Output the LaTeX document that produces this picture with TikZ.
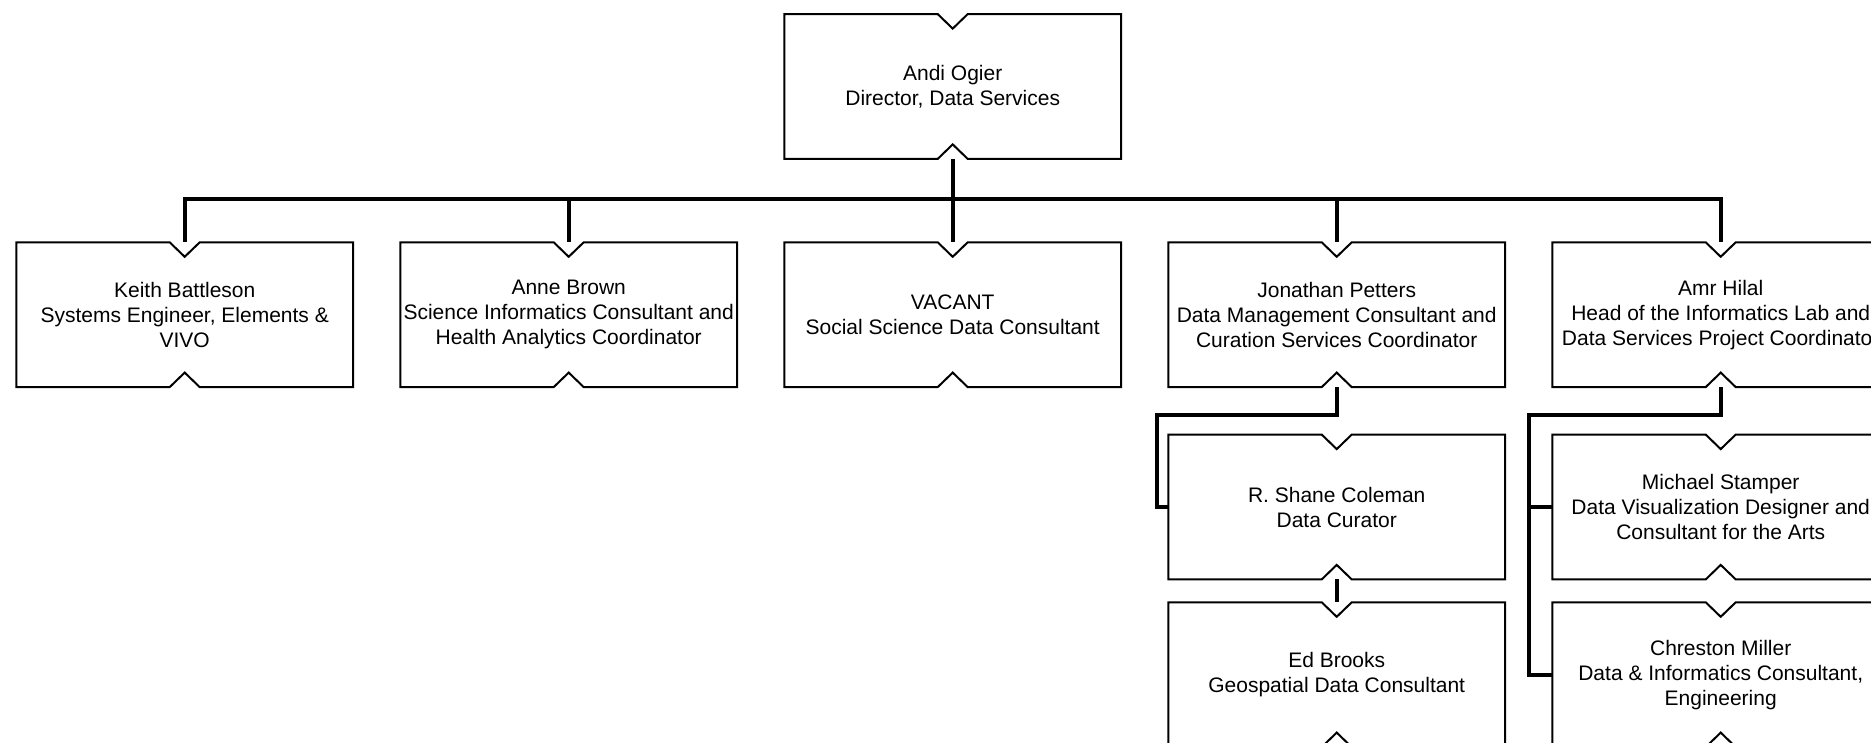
\documentclass[tikz,border=0pt]{standalone}
\usepackage{fontspec}
\setmainfont{Liberation Sans}
\usepackage{tikz}
\tikzstyle{post} = [minimum width=168pt,minimum height=72pt,inner sep=0pt,align=center,font=\fontsize{10.5}{12.5}\selectfont]
\tikzstyle{outline} = [line width=1pt,line join=miter]
\tikzstyle{link} = [line width=2.2pt,line join=miter]

\begin{document}
\begin{tikzpicture}[x=0.5pt,y=-0.5pt]
            \useasboundingbox (0,0) rectangle (1871,743);
            \node[post] (ogier) at (952.7,86.5) {Andi Ogier\\Director, Data Services};
            \node[post] (battleson) at (184.7,314.7) {Keith Battleson\\Systems Engineer, Elements \&\\VIVO};
            \node[post] (brown) at (568.7,314.7) {Anne Brown\\Science Informatics Consultant and\\Health Analytics Coordinator};
            \node[post] (vacant) at (952.7,314.7) {VACANT\\Social Science Data Consultant};
            \node[post] (petters) at (1336.7,314.7) {Jonathan Petters\\Data Management Consultant and\\Curation Services Coordinator};
            \node[post] (hilal) at (1720.7,314.7) {Amr Hilal\\Head of the Informatics Lab and\\Data Services Project Coordinator};
            \node[post] (coleman) at (1336.7,507) {R. Shane Coleman\\Data Curator};
            \node[post] (brooks) at (1336.7,674.7) {Ed Brooks\\Geospatial Data Consultant};
            \node[post] (stamper) at (1720.7,507) {Michael Stamper\\Data Visualization Designer and\\Consultant for the Arts};
            \node[post] (miller) at (1720.7,674.7) {Chreston Miller\\Data \& Informatics Consultant,\\Engineering};
            \foreach \n in {ogier,battleson,brown,vacant,petters,hilal,coleman,brooks,stamper,miller}
                \draw[outline] (\n.north west) -- ([xshift=-7.5pt]\n.north) -- ([yshift=-7.25pt]\n.north) -- ([xshift=7.5pt]\n.north) -- (\n.north east) -- (\n.south east) -- ([xshift=7.5pt]\n.south) -- ([yshift=7.25pt]\n.south) -- ([xshift=-7.5pt]\n.south) -- (\n.south west) -- cycle;
            \coordinate (bus) at (952.7,199.3);
            \coordinate (petterskink) at (1156.7,415);
            \coordinate (hilalkink) at (1529,415);
            \draw[link] (ogier.south) -- (vacant.north);
            \foreach \n in {battleson,brown,petters,hilal}
                \draw[link] (bus) -| (\n.north);
            \draw[link] (petters.south) |- (petterskink) |- (coleman.west);
            \draw[link] (coleman.south) -- (brooks.north);
            \draw[link] (hilal.south) |- (hilalkink) |- (miller.west);
            \draw[link] (hilalkink) |- (stamper.west);
\end{tikzpicture}
\end{document}
